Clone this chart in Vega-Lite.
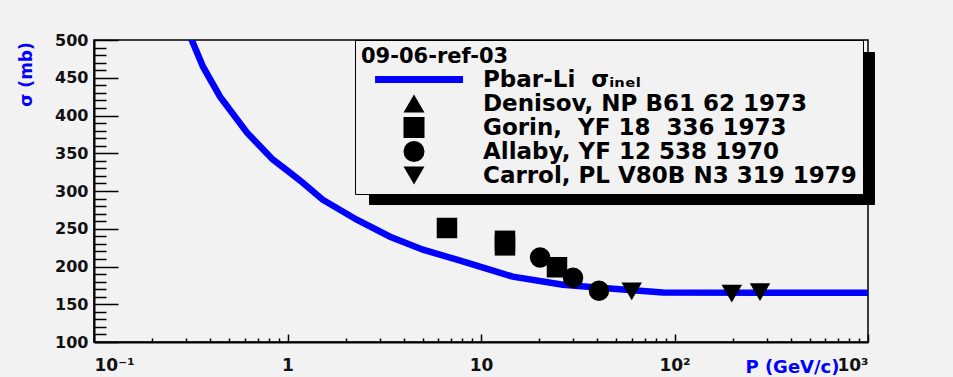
{
  "$schema": "https://vega.github.io/schema/vega-lite/v6.json",
  "width": 774,
  "height": 302,
  "autosize": {"type": "none"},
  "padding": {"left": 94, "top": 40, "right": 85, "bottom": 35},
  "background": "#f2f2f2",
  "config": {
    "view": {"stroke": "black", "strokeWidth": 1.5},
    "font": "DejaVu Sans",
    "axis": {
      "domainColor": "black",
      "domainWidth": 2,
      "tickColor": "black",
      "tickWidth": 1.5,
      "grid": false,
      "labelFont": "DejaVu Sans",
      "labelFontWeight": "bold",
      "labelColor": "#111111",
      "labelFontSize": 16
    },
    "legend": {
      "padding": 6,
      "titleFont": "DejaVu Sans",
      "titleFontSize": 21,
      "titleFontWeight": "bold",
      "titleColor": "black",
      "titleAnchor": "start",
      "titlePadding": 1,
      "labelFont": "DejaVu Sans",
      "labelFontWeight": "bold",
      "labelColor": "black",
      "labelLimit": 600,
      "symbolSize": 441,
      "symbolStrokeWidth": 0,
      "symbolOpacity": 1,
      "rowPadding": 0
    }
  },
  "resolve": {"axis": {"x": "independent", "y": "independent"}},
  "layer": [
    {
      "data": {
        "values": [
          {"P": 0.3, "sigma": 520},
          {"P": 0.32, "sigma": 500},
          {"P": 0.366, "sigma": 464.6},
          {"P": 0.448, "sigma": 424.9},
          {"P": 0.618, "sigma": 377.2},
          {"P": 0.841, "sigma": 341.5},
          {"P": 1.03, "sigma": 324.3},
          {"P": 1.2, "sigma": 311},
          {"P": 1.52, "sigma": 288.5},
          {"P": 2.28, "sigma": 262},
          {"P": 3.39, "sigma": 239.5},
          {"P": 5.01, "sigma": 222.3},
          {"P": 7.51, "sigma": 209},
          {"P": 11.1, "sigma": 195.8},
          {"P": 14.6, "sigma": 186.5},
          {"P": 26.5, "sigma": 175.9},
          {"P": 48.1, "sigma": 170.6},
          {"P": 87.2, "sigma": 165.5},
          {"P": 300, "sigma": 165.3},
          {"P": 1000, "sigma": 165.3}
        ]
      },
      "mark": {"type": "line", "color": "#0000ff", "strokeWidth": 6.5, "clip": true},
      "encoding": {
        "x": {
          "field": "P",
          "type": "quantitative",
          "scale": {"type": "log", "domain": [0.1, 1000], "nice": false},
          "axis": {
            "orient": "bottom",
            "values": [0.1, 1, 10, 100, 1000],
            "tickSize": -8,
            "labelPadding": 23,
            "labelFontSize": 17,
            "labelExpr": "datum.value < 0.5 ? '10⁻¹' : datum.value < 5 ? '1' : datum.value < 50 ? '10' : datum.value < 500 ? '10²' : '10³'",
            "title": "P (GeV/c)",
            "titleColor": "#0000ff",
            "titleFont": "DejaVu Sans",
            "titleFontSize": 18,
            "titleFontWeight": "bold",
            "titleX": 745,
            "titleY": 25,
            "titleAlign": "right",
            "titleBaseline": "middle"
          }
        },
        "y": {
          "field": "sigma",
          "type": "quantitative",
          "scale": {"domain": [100, 500], "nice": false, "zero": false},
          "axis": {
            "orient": "left",
            "values": [100, 150, 200, 250, 300, 350, 400, 450, 500],
            "tickSize": -24,
            "labelPadding": 30,
            "format": "d",
            "title": "σ (mb)",
            "titleColor": "#0000ff",
            "titleFont": "DejaVu Sans",
            "titleFontSize": 17,
            "titleFontWeight": "bold",
            "titleAngle": -90,
            "titleX": -68,
            "titleY": 34,
            "titleAlign": "center",
            "titleBaseline": "middle"
          }
        }
      }
    },
    {
      "data": {
        "values": [
          {"src": "Gorin,\u00a0 YF 18\u00a0 336 1973", "P": 6.67, "sigma": 251},
          {"src": "Gorin,\u00a0 YF 18\u00a0 336 1973", "P": 13.3, "sigma": 234},
          {"src": "Gorin,\u00a0 YF 18\u00a0 336 1973", "P": 13.3, "sigma": 228},
          {"src": "Gorin,\u00a0 YF 18\u00a0 336 1973", "P": 24.7, "sigma": 199},
          {"src": "Allaby, YF 12 538 1970", "P": 20.2, "sigma": 212},
          {"src": "Allaby, YF 12 538 1970", "P": 29.9, "sigma": 185},
          {"src": "Allaby, YF 12 538 1970", "P": 40.7, "sigma": 168},
          {"src": "Carrol, PL V80B N3 319 1979", "P": 60.1, "sigma": 167},
          {"src": "Carrol, PL V80B N3 319 1979", "P": 197.7, "sigma": 164},
          {"src": "Carrol, PL V80B N3 319 1979", "P": 276.6, "sigma": 166}
        ]
      },
      "mark": {"type": "point", "filled": true, "size": 420, "strokeWidth": 0},
      "encoding": {
        "x": {
          "field": "P",
          "type": "quantitative",
          "scale": {"type": "log", "domain": [0.1, 1000], "nice": false},
          "axis": {
            "orient": "bottom",
            "values": [0.2, 0.3, 0.4, 0.5, 0.6, 0.7, 0.8, 0.9, 2, 3, 4, 5, 6, 7, 8, 9, 20, 30, 40, 50, 60, 70, 80, 90, 200, 300, 400, 500, 600, 700, 800, 900],
            "tickSize": -4,
            "labels": false,
            "domain": false,
            "title": null
          }
        },
        "y": {
          "field": "sigma",
          "type": "quantitative",
          "scale": {"domain": [100, 500], "nice": false, "zero": false},
          "axis": {
            "orient": "left",
            "values": [110, 120, 130, 140, 160, 170, 180, 190, 210, 220, 230, 240, 260, 270, 280, 290, 310, 320, 330, 340, 360, 370, 380, 390, 410, 420, 430, 440, 460, 470, 480, 490],
            "tickSize": -12,
            "labels": false,
            "domain": false,
            "title": null
          }
        },
        "shape": {
          "field": "src",
          "type": "nominal",
          "scale": {
            "domain": ["Pbar-Li\u00a0\u00a0σᵢₙₑₗ", "\u00a0Denisov, NP B61 62 1973", "Gorin,\u00a0 YF 18\u00a0 336 1973", "Allaby, YF 12 538 1970", "Carrol, PL V80B N3 319 1979"],
            "range": ["M-3.71,-0.33H4.67V0.33H-3.71Z", "triangle-up", "square", "circle", "triangle-down"]
          },
          "legend": {
            "title": "09-06-ref-03",
            "orient": "none",
            "legendX": 261,
            "legendY": 0,
            "direction": "vertical",
            "fillColor": "#f2f2f2",
            "strokeColor": "black",
            "labelFontSize": 23,
            "labelOffset": 57.5,
            "symbolOffset": 41.5,
            "zindex": 2
          }
        },
        "color": {
          "field": "src",
          "type": "nominal",
          "scale": {
            "domain": ["Pbar-Li\u00a0\u00a0σᵢₙₑₗ", "\u00a0Denisov, NP B61 62 1973", "Gorin,\u00a0 YF 18\u00a0 336 1973", "Allaby, YF 12 538 1970", "Carrol, PL V80B N3 319 1979"],
            "range": ["#0000ff", "black", "black", "black", "black"]
          },
          "legend": {
            "title": "09-06-ref-03",
            "orient": "none",
            "legendX": 261,
            "legendY": 0,
            "direction": "vertical",
            "fillColor": "#f2f2f2",
            "strokeColor": "black",
            "labelFontSize": 23,
            "labelOffset": 57.5,
            "symbolOffset": 41.5,
            "zindex": 2
          }
        },
        "opacity": {
          "field": "src",
          "type": "nominal",
          "scale": {
            "domain": ["Carrol, PL V80B N3 319 1979", "Allaby, YF 12 538 1970", "Gorin,\u00a0 YF 18\u00a0 336 1973", "\u00a0Denisov, NP B61 62 1973", "Pbar-Li\u00a0\u00a0σᵢₙₑₗ"],
            "range": [1, 1, 1, 1, 1]
          },
          "legend": {
            "title": null,
            "orient": "none",
            "legendX": 275,
            "legendY": 12,
            "direction": "vertical",
            "fillColor": "black",
            "strokeColor": "black",
            "symbolFillColor": "black",
            "symbolType": "square",
            "labelExpr": "' '",
            "labelFontSize": 28,
            "labelOffset": 465,
            "symbolOffset": 0,
            "zindex": 1
          }
        }
      }
    }
  ]
}
